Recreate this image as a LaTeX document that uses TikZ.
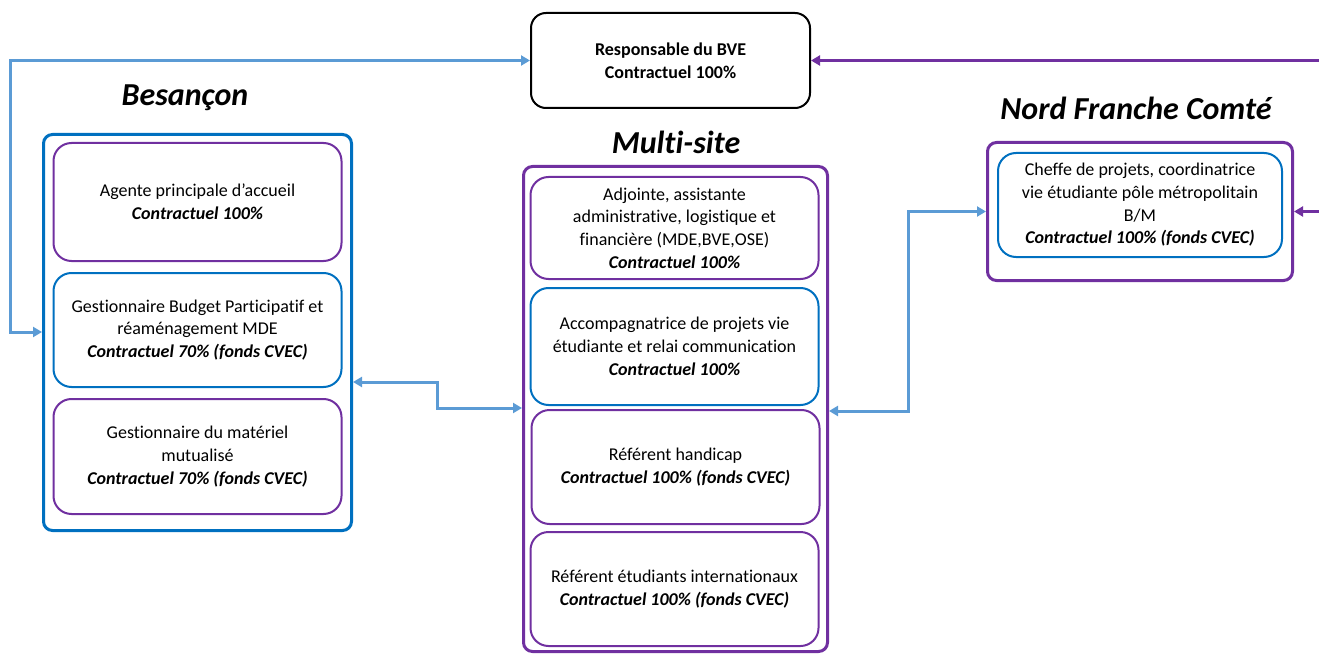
\documentclass[tikz,border=0pt]{standalone}
\usepackage{fontspec}
\setmainfont{Carlito}[Ligatures={NoCommon}]
\usetikzlibrary{arrows.meta}
\definecolor{dblue}{HTML}{0070C0}
\definecolor{lblue}{HTML}{5B9BD5}
\definecolor{purp}{HTML}{7030A0}
\begin{document}
\begin{tikzpicture}[x=1pt,y=-1pt,
  body/.style={font=\fontsize{18}{22.7}\selectfont, align=center, inner sep=0pt},
  outerbox/.style={draw, line width=3pt, rounded corners=9pt, inner sep=0pt},
  innerbox/.style={body, draw, line width=2pt, rounded corners=18pt, minimum width=288pt},
  ttl/.style={font=\fontsize{32}{36}\selectfont\bfseries\itshape, inner sep=0pt},
  arr/.style={lblue, line width=3pt, {Triangle[length=9pt,width=10pt]}-{Triangle[length=9pt,width=10pt]}},
  parr/.style={purp, line width=3pt, {Triangle[length=9pt,width=10pt]}-{Triangle[length=9pt,width=10pt]}}
]
\useasboundingbox (0,0) rectangle (1319,655);
% titles
\node[ttl] (tbes) at (185,98) {Besançon};
\node[ttl] (tms) at (676,142) {Multi-site};
\node[ttl] (tnfc) at (1136,108) {Nord Franche Comté};
% responsable
\node[body, font=\fontsize{18}{22.7}\selectfont\bfseries, draw=black, line width=2pt, rounded corners=15pt, minimum width=279pt, minimum height=95pt] (resp) at (670.5,60.5) {Responsable du BVE\\Contractuel 100\%};
% outer boxes
\node[outerbox, draw=dblue, minimum width=308pt, minimum height=396pt] (besouter) at (197.5,332.5) {};
\node[outerbox, draw=purp, minimum width=304pt, minimum height=485pt] (msouter) at (675.5,409) {};
\node[outerbox, draw=purp, minimum width=305pt, minimum height=138pt] (nfcouter) at (1140,211.5) {};
% Besancon inner
\node[innerbox, draw=purp, minimum height=118pt] (agente) at (197.5,202) {Agente principale d’accueil\\\textbf{\textit{Contractuel 100\%}}};
\node[innerbox, draw=dblue, minimum height=114pt] (gestbud) at (197.5,330) {Gestionnaire Budget Participatif et\\réaménagement MDE\\\textbf{\textit{Contractuel 70\% (fonds CVEC)}}};
\node[innerbox, draw=purp, minimum height=115pt] (gestmat) at (197.5,456.5) {Gestionnaire du matériel\\mutualisé\\\textbf{\textit{Contractuel 70\% (fonds CVEC)}}};
% Multi-site inner
\node[innerbox, draw=purp, minimum height=102pt] (adj) at (674.5,228) {Adjointe, assistante\\administrative, logistique et\\financière (MDE,BVE,OSE)\\\textbf{\textit{Contractuel 100\%}}};
\node[innerbox, draw=dblue, minimum height=117pt] (acc) at (674.5,346.5) {Accompagnatrice de projets vie\\étudiante et relai communication\\\textbf{\textit{Contractuel 100\%}}};
\node[innerbox, draw=purp, minimum height=114pt] (hand) at (675.5,467) {Référent handicap\\\textbf{\textit{Contractuel 100\% (fonds CVEC)}}};
\node[innerbox, draw=purp, minimum height=114pt] (intl) at (674.5,589) {Référent étudiants internationaux\\\textbf{\textit{Contractuel 100\% (fonds CVEC)}}};
% NFC inner
\node[innerbox, draw=dblue, minimum width=284pt, minimum height=104pt] (cheffe) at (1140,205) {Cheffe de projets, coordinatrice\\vie étudiante pôle métropolitain\\B/M\\\textbf{\textit{Contractuel 100\% (fonds CVEC)}}};
% connectors
\draw[arr] (besouter.west |- 0,332) -- (10,332) |- (resp.west);
\draw[arr] (besouter.east |- 0,382) -- (437,382) |- (msouter.west |- 0,408);
\draw[arr] (msouter.east |- 0,411) -- (908,411) |- (nfcouter.west);
\draw[parr] (nfcouter.east) -- (1335,211.5) |- (resp.east);
\end{tikzpicture}
\end{document}
